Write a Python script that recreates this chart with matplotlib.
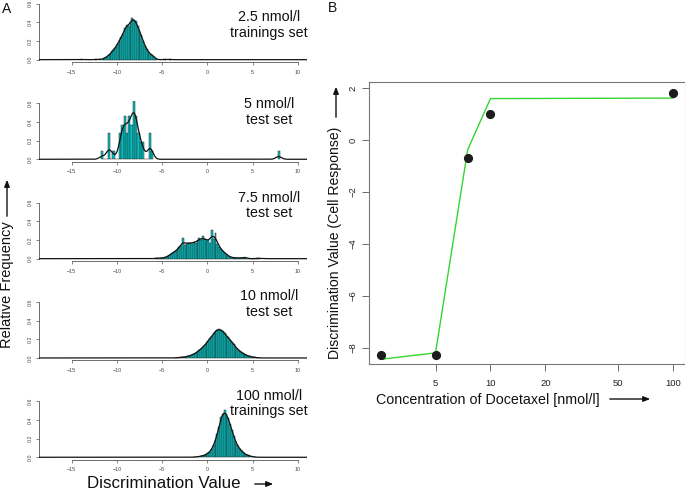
import numpy as np
import matplotlib
matplotlib.use("Agg")
import matplotlib.pyplot as plt

plt.rcParams['font.family'] = ['Liberation Sans', 'DejaVu Sans']

# ---------------- Panel A data (histogram bar heights, density scale) ----------------
panel_labels = ["2.5 nmol/l\ntrainings set", "5 nmol/l\ntest set", "7.5 nmol/l\ntest set",
                "10 nmol/l\ntest set", "100 nmol/l\ntrainings set"]
bin_width = [0.2, 0.25, 0.2, 0.2, 0.2]
bin_start = [-11.6, -11.75, -5.8, -3.6, -1.6]

h_25 = [0.01, 0.02, 0.03, 0.05, 0.06, 0.09, 0.11, 0.14, 0.17, 0.21,
        0.24, 0.28, 0.34, 0.37, 0.36, 0.40, 0.45, 0.43, 0.41, 0.36,
        0.31, 0.26, 0.20, 0.15, 0.11, 0.08, 0.06, 0.05, 0.03, 0.01]
h_5 = [0.09, 0.0, 0.0, 0.28, 0.0, 0.09, 0.0, 0.0, 0.28, 0.37,
       0.46, 0.28, 0.46, 0.37, 0.72, 0.46, 0.28, 0.18, 0.18, 0.0,
       0.0, 0.28, 0.09]
h_75 = [0.005, 0.005, 0.0, 0.005, 0.01, 0.01, 0.02, 0.03, 0.04, 0.06,
        0.07, 0.08, 0.10, 0.12, 0.14, 0.22, 0.15, 0.16, 0.17, 0.17,
        0.16, 0.18, 0.17, 0.19, 0.22, 0.20, 0.24, 0.21, 0.19, 0.20,
        0.17, 0.31, 0.21, 0.27, 0.16, 0.13, 0.10, 0.08, 0.06, 0.05,
        0.03, 0.02, 0.01, 0.01, 0.01, 0.005, 0.01, 0.005, 0.01, 0.02,
        0.01, 0.0, 0.0, 0.0, 0.0, 0.0, 0.005, 0.005]
h_10 = [0.002, 0.003, 0.004, 0.006, 0.008, 0.011, 0.015, 0.02, 0.026, 0.033,
        0.042, 0.053, 0.066, 0.081, 0.098, 0.116, 0.136, 0.158, 0.186, 0.21,
        0.235, 0.265, 0.29, 0.305, 0.31, 0.30, 0.285, 0.265, 0.24, 0.22,
        0.195, 0.17, 0.145, 0.12, 0.10, 0.08, 0.065, 0.05, 0.04, 0.03,
        0.022, 0.016, 0.011, 0.008, 0.005, 0.003, 0.002]
h_100 = [0.002, 0.003, 0.005, 0.008, 0.012, 0.017, 0.023, 0.03, 0.045, 0.06,
         0.09, 0.13, 0.18, 0.25, 0.33, 0.43, 0.46, 0.51, 0.46, 0.42,
         0.36, 0.29, 0.23, 0.17, 0.13, 0.10, 0.075, 0.055, 0.04, 0.028,
         0.02, 0.013, 0.008, 0.005, 0.003]
heights = [h_25, h_5, h_75, h_10, h_100]

# isolated outlier bins (left edge, height)
extra_x = [[-14.0, -12.4, -12.0, -4.8, -4.2], [7.75], [], [], []]
extra_h = [[0.005, 0.005, 0.005, 0.006, 0.005], [0.09], [], [], []]
smooth_sd = [0.2, 0.3, 0.25, 0.2, 0.2]

hist_xticks = [-15, -10, -5, 0, 5, 10]
hist_yticks = [0.0, 0.2, 0.4, 0.6]

# ---------------- Panel B data ----------------
conc = [2.5, 5, 7.5, 10, 100]
disc_value = [-8.28, -8.30, -0.70, 0.99, 1.83]
fit_conc = [2.5, 5, 7.5, 10, 100]
fit_value = [-8.45, -8.20, -0.37, 1.60, 1.62]
conc_ticks = [5, 10, 20, 50, 100]
disc_ticks = [-8, -6, -4, -2, 0, 2]

# ---------------- Figure ----------------
W, H = 685, 495
fig = plt.figure(figsize=(W / 100, H / 100), dpi=100)


def ax_px(left, top, right, bottom):
    return fig.add_axes([left / W, 1 - bottom / H, (right - left) / W, (bottom - top) / H])


axis_col = '#555555'
bar_col = '#00C2C2'
zero_px = [58.7, 158.3, 257.7, 357.0, 456.3]
px_per_unit = 55.0 / 0.6
xl = (-18.6, 11.0)
grid = np.arange(xl[0], xl[1] + 0.01, 0.01)

for i in range(5):
    z = zero_px[i]
    ax = ax_px(39, z - 0.624 * px_per_unit, 307, z + 0.024 * px_per_unit + 1.0)
    bw = bin_width[i]
    lefts = bin_start[i] + bw * np.arange(len(heights[i]))
    all_left = np.concatenate([lefts, np.array(extra_x[i], dtype=float)])
    all_h = np.concatenate([np.array(heights[i]), np.array(extra_h[i], dtype=float)])
    ax.bar(all_left, all_h, width=bw, align='edge', color=bar_col,
           edgecolor='#2a2a2a', linewidth=0.35, zorder=2)
    # density line: smoothed version of histogram
    step = np.zeros_like(grid)
    for l, hh in zip(all_left, all_h):
        step[(grid >= l) & (grid < l + bw)] = hh
    dx = grid[1] - grid[0]
    kx = np.arange(-4 * smooth_sd[i], 4 * smooth_sd[i] + dx, dx)
    k = np.exp(-0.5 * (kx / smooth_sd[i]) ** 2)
    k /= k.sum()
    dens = np.convolve(step, k, mode='same')
    ax.plot(grid, dens, color='#111111', lw=0.9, zorder=3)

    ax.set_xlim(*xl)
    ax.set_ylim(-0.024, 0.624)
    for s in ['top', 'right']:
        ax.spines[s].set_visible(False)
    ax.spines['left'].set_bounds(0, 0.6)
    ax.spines['bottom'].set_bounds(-15, 10)
    for s in ['left', 'bottom']:
        ax.spines[s].set_color(axis_col)
        ax.spines[s].set_linewidth(0.6)
    ax.set_xticks(hist_xticks)
    ax.set_xticklabels([f"{t}" if t >= 0 else f"\u2212{-t}" for t in hist_xticks])
    ax.set_yticks(hist_yticks)
    ax.set_yticklabels([f"{t:.1f}" for t in hist_yticks], rotation=90, va='center')
    ax.tick_params(axis='both', length=2, width=0.5, color=axis_col, labelsize=3.8,
                   labelcolor='#444444')
    ax.tick_params(axis='x', pad=3.5)
    ax.tick_params(axis='y', pad=2.5)
    ax.patch.set_alpha(0)

# panel labels of A
label_y = [(17, 33), (103, 121), (197, 214), (295, 313), (395, 412)]
for i in range(5):
    y_mid = (label_y[i][0] + label_y[i][1]) / 2
    fig.text(269 / W, 1 - y_mid / H, panel_labels[i], ha='center', va='center',
             fontsize=10.3, linespacing=1.15, color='#111111')

fig.text(2 / W, 1 - 9 / H, "A", ha='left', va='center', fontsize=10, color='#111111')
fig.text(328 / W, 1 - 8 / H, "B", ha='left', va='center', fontsize=10, color='#111111')

# Relative Frequency label with arrow
fig.text(7 / W, 1 - 285 / H, "Relative Frequency", rotation=90, ha='center', va='center',
         fontsize=10.5, color='#111111')
fig.add_artist(matplotlib.patches.FancyArrowPatch(
    (7 / W, 1 - 219 / H), (7 / W, 1 - 177 / H), transform=fig.transFigure,
    arrowstyle='-|>,head_length=4,head_width=1.6', color='#111111', lw=1.0))

# Discrimination Value label with arrow
fig.text(164 / W, 1 - 484 / H, "Discrimination Value", ha='center', va='center',
         fontsize=12.2, color='#111111')
fig.add_artist(matplotlib.patches.FancyArrowPatch(
    (252 / W, 1 - 484 / H), (276 / W, 1 - 484 / H), transform=fig.transFigure,
    arrowstyle='-|>,head_length=4,head_width=1.6', color='#111111', lw=1.0))

# ---------------- Panel B ----------------
axb = ax_px(369, 82, 684.7, 364)
axb.set_xscale('log')
axb.plot(fit_conc, fit_value, color='#33D633', lw=1.0, zorder=2)
axb.plot(conc, disc_value, 'o', color='#1c1c1c', markersize=5.6, zorder=3)
axb.set_xlim(2.16, 115.9)
axb.set_ylim(-8.63, 2.24)
axb.set_xticks(conc_ticks)
axb.set_xticklabels([str(t) for t in conc_ticks])
axb.xaxis.set_minor_locator(matplotlib.ticker.NullLocator())
axb.set_yticks(disc_ticks)
axb.set_yticklabels([f"{t}" if t >= 0 else f"\u2212{-t}" for t in disc_ticks],
                    rotation=90, va='center')
for s in axb.spines.values():
    s.set_color('#777777')
    s.set_linewidth(0.8)
axb.tick_params(axis='both', length=5, width=0.6, color='#555555', labelsize=6.8,
                labelcolor='#222222')
axb.tick_params(axis='x', pad=6)
axb.tick_params(axis='y', pad=3.5)

fig.text(488 / W, 1 - 400 / H, "Concentration of Docetaxel [nmol/l]", ha='center',
         va='center', fontsize=10.3, color='#111111')
fig.add_artist(matplotlib.patches.FancyArrowPatch(
    (607 / W, 1 - 399 / H), (653 / W, 1 - 399 / H), transform=fig.transFigure,
    arrowstyle='-|>,head_length=4,head_width=1.6', color='#111111', lw=1.0))

fig.text(335 / W, 1 - 243 / H, "Discrimination Value (Cell Response)", rotation=90,
         ha='center', va='center', fontsize=10.1, color='#111111')
fig.add_artist(matplotlib.patches.FancyArrowPatch(
    (336 / W, 1 - 120 / H), (336 / W, 1 - 84 / H), transform=fig.transFigure,
    arrowstyle='-|>,head_length=4,head_width=1.6', color='#111111', lw=1.0))

fig.savefig("out.png", dpi=100)
